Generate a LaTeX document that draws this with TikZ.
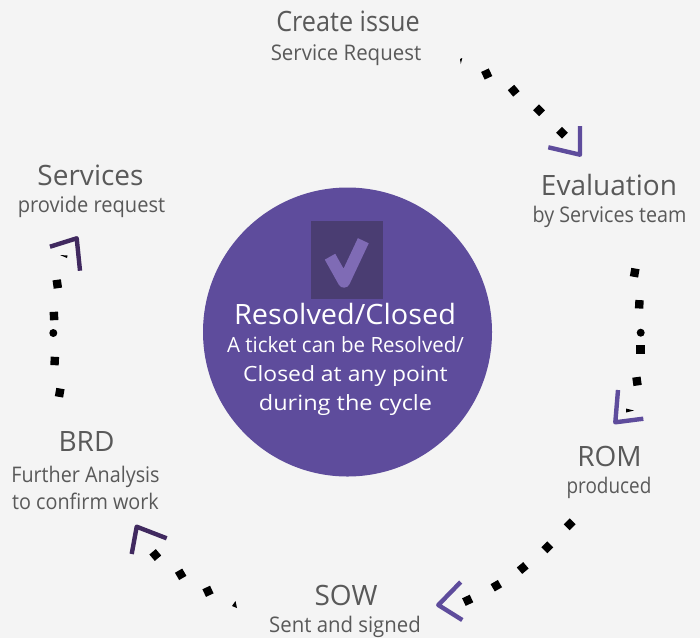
\documentclass[tikz,border=0pt]{standalone}
\usepackage{fontspec}
\setmainfont{Open Sans}
\definecolor{bgc}{HTML}{F4F4F4}
\definecolor{txtc}{HTML}{595959}
\definecolor{circc}{HTML}{5E4C9C}
\definecolor{boxc}{HTML}{4A3D72}
\definecolor{chkc}{HTML}{7F6BB5}
\definecolor{dkc}{HTML}{40295F}
\tikzset{
  head/.style={font=\fontsize{28}{32}\selectfont,text=txtc,inner sep=0pt},
  sub/.style={font=\fontsize{21.5}{27}\selectfont,text=txtc,inner sep=0pt,align=center},
  dotq/.style={fill=black,draw=none,minimum size=8.4pt,inner sep=0pt,shape=rectangle},
  dotc/.style={fill=black,draw=none,minimum size=8pt,inner sep=0pt,shape=circle},
  chev/.style={line width=4.4pt,line join=round},
}
\begin{document}
\begin{tikzpicture}[x=1pt,y=-1pt]
\useasboundingbox (0,0) rectangle (700,638);
\fill[bgc] (0,0) rectangle (700,638);
\node[circle,fill=circc,minimum size=289pt,inner sep=0pt] (hub) at (347.5,332) {};
\node[fill=boxc,minimum width=71.5pt,minimum height=77.5pt,inner sep=0pt] (chkbox) at (347,260) {};
\draw[chkc,line width=12pt,line join=round] (330,256.7) -- (344,281.7) -- (363.3,240.7);
\node[font=\fontsize{28}{32}\selectfont,text=white,inner sep=0pt,xscale=1.03] (t0) at (345,314) {Resolved/Closed};
\node[font=\fontsize{21}{29}\selectfont,text=white,inner sep=0pt,align=center] (t1) at (345.5,376) {\scalebox{.977}[1]{A ticket can be Resolved/}\\\scalebox{1.09}[1]{Closed at any point}\\\scalebox{1.12}[1]{during the cycle}};
%
\node[head,xscale=.9] (a1) at (348,21) {Create issue};
\node[sub,xscale=.95]  (a2) at (346,55) {Service Request};
\node[head] (b1) at (609,185) {Evaluation};
\node[sub,xscale=.917]  (b2) at (609.5,217) {by Services team};
\node[head] (c1) at (609.5,456) {ROM};
\node[sub,xscale=.88]  (c2) at (609,488) {produced};
\node[head] (d1) at (346,595) {SOW};
\node[sub,xscale=.947]  (d2) at (345,627) {Sent and signed};
\node[head] (e1) at (86.5,441) {BRD};
\node[sub,xscale=.92]  (e2) at (85.5,488) {Further Analysis\\to confirm work};
\node[head] (f1) at (90.5,175) {Services};
\node[sub,xscale=.934]  (f2) at (91.5,207) {provide request};
%
\foreach \x/\y/\r in {486.7/74/25,513.7/90.7/40,539/110.3/45,562/132.7/45,
  634.7/272.7/-10,639.3/304.3/-3,640.3/349.3/0,637/381.3/8,
  569.7/524.3/45,547.3/547.3/45,522.7/568/40,496.3/585.7/30,467.7/600.3/25,
  155.3/555/40,180.7/574.3/30,208/591.3/25,
  59.7/392.7/-10,54.7/361/-3,54/316/3,57.3/284/8}
  \node[dotq,rotate=\r] at (\x,\y) {};
\node[dotc] at (640.7,332.7) {};
\node[dotc] at (53.3,333) {};
\fill (460,59) -- (462.3,58) -- (460.8,64) -- cycle;
\fill (626,408.5) -- (634,410.5) -- (626,412.5) -- cycle;
\fill (60,255) -- (67.5,255.5) -- (67,258) -- cycle;
\fill (235.5,601) -- (237,608) -- (232,606) -- cycle;
%
\draw[chev,circc] (548.3,147.3) -- (580,154.7) -- (580,126);
\draw[chev,circc] (618,390) -- (615.3,422.3) -- (643.3,418.7);
\draw[chev,circc] (460.7,582) -- (438.3,605) -- (462.3,620);
\draw[chev,dkc] (131.7,554) -- (136.7,526.7) -- (166.7,538.3);
\draw[chev,dkc] (50,246.7) -- (76.7,238.3) -- (80,270.7);
\end{tikzpicture}
\end{document}
